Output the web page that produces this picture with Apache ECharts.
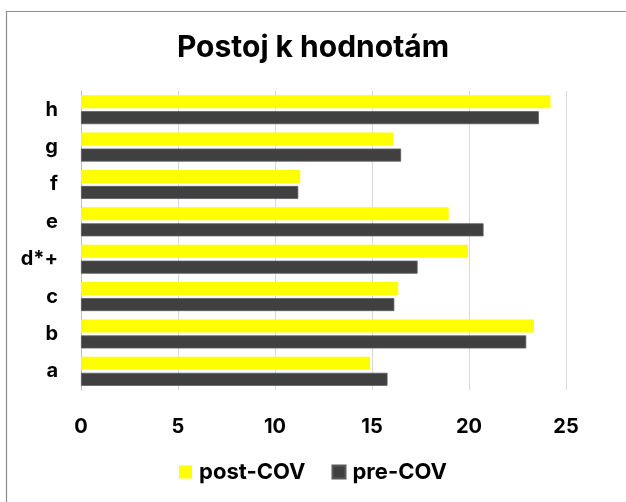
<!DOCTYPE html>
<html>
<head>
<meta charset="utf-8">
<script src="https://cdn.jsdelivr.net/npm/echarts@6/dist/echarts.min.js"></script>
<style>
html,body{margin:0;padding:0;background:#fff;}
#chart{width:626px;height:502px;}
</style>
</head>
<body>
<div id="chart"></div>
<script>
const categories = ['a', 'b', 'c', 'd*+', 'e', 'f', 'g', 'h'];
const postCOV = [14.9, 23.35, 16.35, 19.95, 18.95, 11.3, 16.1, 24.2];
const preCOV = [15.8, 22.95, 16.15, 17.35, 20.75, 11.2, 16.5, 23.6];
const xTicks = [0, 5, 10, 15, 20, 25];

const FONT = 'Inter, "Liberation Sans", Arial, sans-serif';
const chart = echarts.init(document.getElementById('chart'), null, {renderer: 'canvas'});
chart.setOption({
  backgroundColor: '#ffffff',
  animation: false,
  graphic: [{
    type: 'rect', silent: true, z: -1,
    shape: {x: 6.5, y: 11.5, width: 700, height: 600},
    style: {fill: 'none', stroke: '#8c8c8c', lineWidth: 1.2}
  }],
  title: {
    text: 'Postoj k hodnotám',
    left: 'center', top: 28,
    textStyle: {fontFamily: FONT, fontWeight: 'bold', fontSize: 30, color: '#000'}
  },
  legend: {
    data: ['post-COV', 'pre-COV'],
    bottom: 14, left: 'center',
    itemWidth: 13, itemHeight: 13, itemGap: 26,
    icon: 'rect',
    textStyle: {fontFamily: FONT, fontWeight: 'bold', fontSize: 22, color: '#000', padding: [0, 0, 0, 2]}
  },
  grid: {left: 81, right: 60, top: 91, bottom: 112, containLabel: false},
  xAxis: {
    type: 'value', min: xTicks[0], max: xTicks[xTicks.length - 1], interval: 5,
    axisLine: {show: false}, axisTick: {show: false},
    splitLine: {show: true, lineStyle: {color: '#d9d9d9', width: 1}},
    axisLabel: {margin: 27, fontFamily: FONT, fontWeight: 'bold', fontSize: 20, color: '#000'}
  },
  yAxis: {
    type: 'category', data: categories,
    axisLine: {show: true, lineStyle: {color: '#bfbfbf', width: 1}},
    axisTick: {show: false},
    axisLabel: {margin: 23, fontFamily: FONT, fontWeight: 'bold', fontSize: 20, color: '#000'}
  },
  series: [
    {name: 'post-COV', type: 'bar', data: postCOV, barWidth: 13, barGap: '23%',
     itemStyle: {color: '#ffff00'}},
    {name: 'pre-COV', type: 'bar', data: preCOV, barWidth: 13, barGap: '23%',
     itemStyle: {color: '#404040', borderColor: '#5a5a5a', borderWidth: 0.8}}
  ]
});
</script>
</body>
</html>
